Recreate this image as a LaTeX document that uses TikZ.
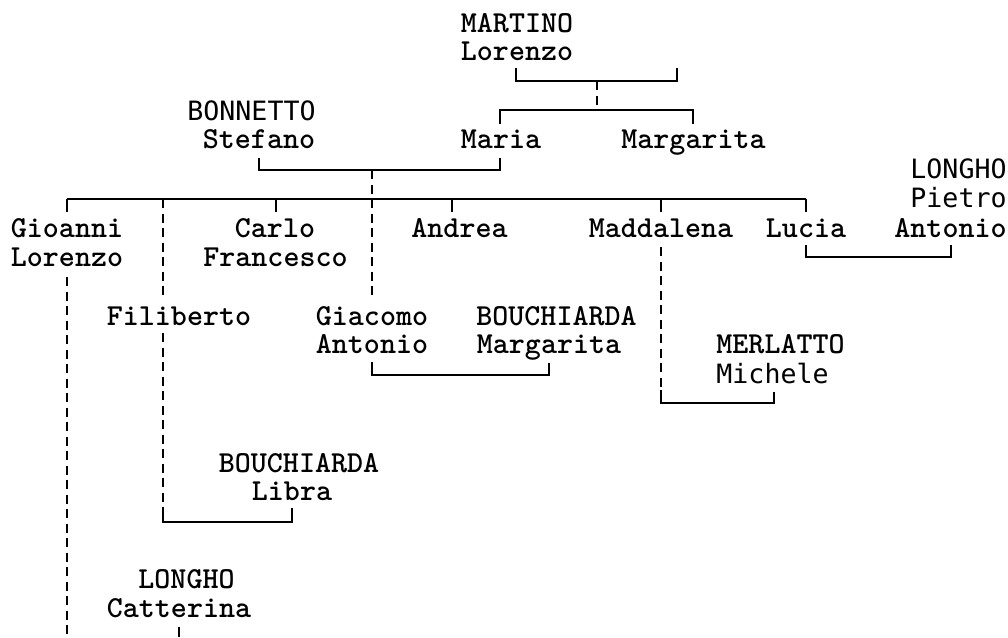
\documentclass[tikz,border=0pt]{standalone}
\usepackage{fontspec}
\newfontfamily\sansmf{DejaVu Sans Mono}
\tikzset{
  nm/.style={font=\ttfamily\bfseries\fontsize{30.5}{29}\selectfont, inner sep=0pt, anchor=base},
  ns/.style={font=\sansmf\fontsize{26.6}{29}\selectfont, inner sep=0pt, anchor=base},
  ln/.style={line width=1.8pt, line cap=butt, line join=miter},
  dl/.style={line width=1.8pt, dash pattern=on 9pt off 5.5pt},
}
\begin{document}
\begin{tikzpicture}[x=1pt,y=-1pt]
\useasboundingbox (0,0) rectangle (1008,637);
% people
\node[nm] (martino) at (517,32) {MARTINO};
\node[nm] (lorenzoM) at (517,60) {Lorenzo};
\node[ns] (bonnetto) at (251.5,120) {BONNETTO};
\node[nm] (stefano) at (259,148) {Stefano};
\node[nm] (maria) at (501,148) {Maria};
\node[nm] (margaritaM) at (693.5,148) {Margarita};
\node[ns] (longhoP) at (958.5,178) {LONGHO};
\node[ns] (pietro) at (958.5,207) {Pietro};
\node[nm] (antonioP) at (950.5,237) {Antonio};
\node[nm] (gioanni) at (67,237) {Gioanni};
\node[nm] (lorenzoG) at (67,266) {Lorenzo};
\node[nm] (carlo) at (275,237) {Carlo};
\node[nm] (francesco) at (275.5,266) {Francesco};
\node[nm] (andrea) at (459.5,237) {Andrea};
\node[nm] (maddalena) at (661,237) {Maddalena};
\node[nm] (lucia) at (806,237) {Lucia};
\node[nm] (filiberto) at (179,325) {Filiberto};
\node[nm] (giacomo) at (372,325) {Giacomo};
\node[nm] (antonioG) at (372,353) {Antonio};
\node[nm] (bouchM) at (556.5,325) {BOUCHIARDA};
\node[nm] (margaritaB) at (549,353) {Margarita};
\node[nm] (merlatto) at (780.5,353) {MERLATTO};
\node[ns] (michele) at (772.5,383) {Michele};
\node[nm] (bouchL) at (299,472) {BOUCHIARDA};
\node[nm] (libra) at (292,500) {Libra};
\node[nm] (longhoC) at (186.5,588) {LONGHO};
\node[nm] (catterina) at (179,617) {Catterina};
% connector points
\coordinate (tA) at (516,68);   \coordinate (tB) at (677,68);
\coordinate (tM) at (597,81);   \coordinate (tN) at (597,110);
\coordinate (mA) at (500,124);  \coordinate (mB) at (693,124);
\coordinate (sA) at (259,158);  \coordinate (sB) at (500,158);
\coordinate (sM) at (372,170);  \coordinate (cJ) at (372,199);
\coordinate (cL) at (67,199);   \coordinate (cR) at (806,199);
\coordinate (kG) at (67,212);   \coordinate (kC) at (276,212);
\coordinate (kA) at (452,212);  \coordinate (kM) at (661,212);
\coordinate (kL) at (806,212);
\coordinate (fT) at (163,199);  \coordinate (fB) at (163,298);
\coordinate (gB) at (372,298);
\coordinate (gdT) at (67,277);  \coordinate (gdB) at (67,637);
\coordinate (fdT) at (163,333); \coordinate (fdB) at (163,508);
\coordinate (lbT) at (292,508);
\coordinate (jA) at (372,362);  \coordinate (jB) at (549,363);
\coordinate (mdT) at (661,247); \coordinate (mdB) at (661,390);
\coordinate (mcT) at (774,392);
\coordinate (luA) at (806,245); \coordinate (luB) at (951,245);
\coordinate (caT) at (179,627); \coordinate (caB) at (179,637);
% connectors
\draw[ln] (tA) |- (tM) -| (tB);
\draw[dl] (tM) -- (tN);
\draw[ln] (mA) |- (tN) -| (mB);
\draw[ln] (sA) |- (sM) -| (sB);
\draw[dl] (sM) -- (cJ);
\draw[ln] (cL) -- (cR);
\draw[ln] (kG) -- (cL);
\draw[ln] (kC) -- (kC |- cL);
\draw[ln] (kA) -- (kA |- cL);
\draw[ln] (kM) -- (kM |- cL);
\draw[ln] (kL) -- (cR);
\draw[dl] (fT) -- (fB);
\draw[dl] (cJ) -- (gB);
\draw[dl] (gdT) -- (gdB);
\draw[dl] (fdT) -- (fdB);
\draw[ln] (fdB) |- (292,522) -- (lbT);
\draw[ln] (jA) |- (549,375) -- (jB);
\draw[dl] (mdT) -- (mdB);
\draw[ln] (mdB) |- (774,403) -- (mcT);
\draw[ln] (luA) |- (951,257) -- (luB);
\draw[ln] (caT) -- (caB);
\end{tikzpicture}
\end{document}
